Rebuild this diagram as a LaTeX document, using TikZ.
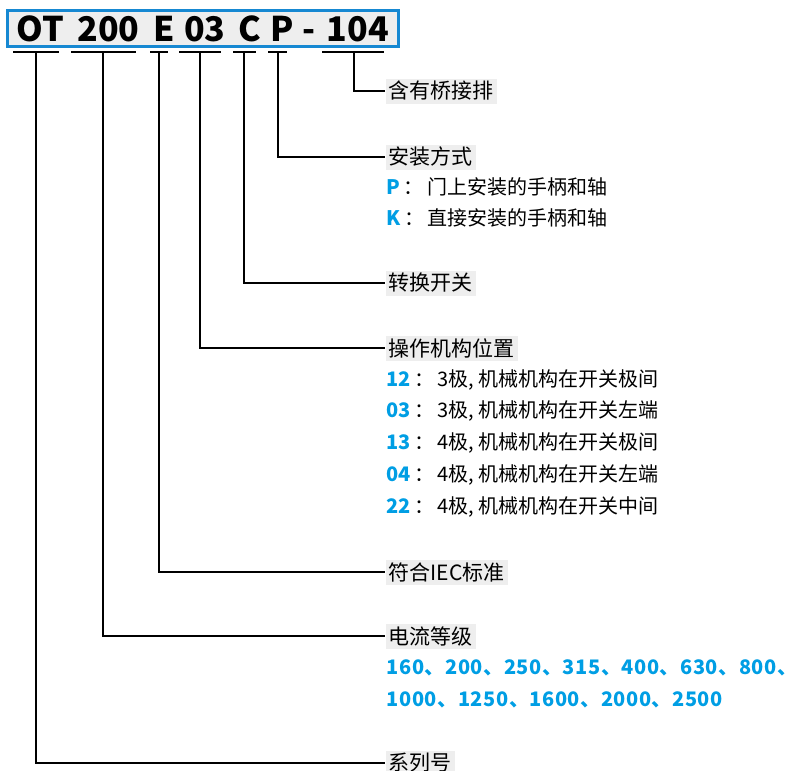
\documentclass[tikz,border=0pt]{standalone}
\usepackage{fontspec}
\setmainfont{Noto Sans CJK SC}
\definecolor{hdrblue}{RGB}{22,136,210}
\definecolor{numblue}{RGB}{0,158,228}
\definecolor{lblgray}{RGB}{238,238,238}
\newcommand{\num}[1]{\textcolor{numblue}{\textbf{#1}}}
\newcommand{\codepart}[2]{\makebox[#1pt]{#2}}
\begin{document}
\begin{tikzpicture}[x=1pt, y=-1pt, line width=1.6pt]
    \tikzstyle{hdr}=[draw=hdrblue, line width=3pt, fill=lblgray, minimum width=391pt, minimum height=36pt, inner sep=0pt, font=\fontsize{34}{38}\selectfont\bfseries]
    \tikzstyle{lbl}=[fill=lblgray, anchor=west, inner xsep=3pt, inner ysep=0pt, minimum height=25pt, font=\fontsize{21}{24}\selectfont]
    \tikzstyle{txt}=[anchor=west, inner sep=0pt, font=\fontsize{20}{24}\selectfont]
    \useasboundingbox (0,0) rectangle (793,771);
    \node[hdr] (code) at (203,28.5) {\codepart{47}{OT}\hspace{12pt}\codepart{65}{200}\hspace{14pt}\codepart{18}{E}\hspace{11pt}\codepart{42}{03}\hspace{12pt}\codepart{23}{C}\hspace{12pt}\codepart{19}{P}\codepart{35}{-}\codepart{62}{104}\hspace{10pt}};
    % underlines below the code
    \foreach \a/\b in {13/59, 71/136, 150/168, 179/221, 233/256, 268/287, 322/384}
      \draw[line width=2pt] (\a,52) -- (\b,52);
    \coordinate (tOT) at (36,52);
    \coordinate (tA) at (103,52);
    \coordinate (tE) at (159,52);
    \coordinate (tPos) at (200,52);
    \coordinate (tC) at (244,52);
    \coordinate (tP) at (278,52);
    \coordinate (tBar) at (354,52);
    % labels
    \node[lbl] (bar) at (385,91) {含有桥接排};
    \node[lbl] (mount) at (385,157) {安装方式};
    \node[txt] (mP) at (386,187) {\num{P}\,：\,门上安装的手柄和轴};
    \node[txt] (mK) at (386,218) {\num{K}\,：\,直接安装的手柄和轴};
    \node[lbl] (sw) at (385,283) {转换开关};
    \node[lbl] (pos) at (385,348) {操作机构位置};
    \node[txt] (p12) at (386,380) {\num{12}\,：\,3极, 机械机构在开关极间};
    \node[txt] (p03) at (386,411) {\num{03}\,：\,3极, 机械机构在开关左端};
    \node[txt] (p13) at (386,443) {\num{13}\,：\,4极, 机械机构在开关极间};
    \node[txt] (p04) at (386,475) {\num{04}\,：\,4极, 机械机构在开关左端};
    \node[txt] (p22) at (386,507) {\num{22}\,：\,4极, 机械机构在开关中间};
    \node[lbl] (iec) at (385,572) {符合IEC标准};
    \node[lbl] (amp) at (385,636) {电流等级};
    \node[txt] (ampA) at (386,668) {\addfontfeature{LetterSpace=2.7}\num{160、200、250、315、400、630、800、}};
    \node[txt] (ampB) at (386,700) {\addfontfeature{LetterSpace=2.7}\num{1000、1250、1600、2000、2500}};
    \node[lbl] (sys) at (385,763) {系列号};
    % connectors
    \draw (tBar) |- (bar.west);
    \draw (tP) |- (mount.west);
    \draw (tC) |- (sw.west);
    \draw (tPos) |- (pos.west);
    \draw (tE) |- (iec.west);
    \draw (tA) |- (amp.west);
    \draw (tOT) |- (sys.west);
\end{tikzpicture}
\end{document}
